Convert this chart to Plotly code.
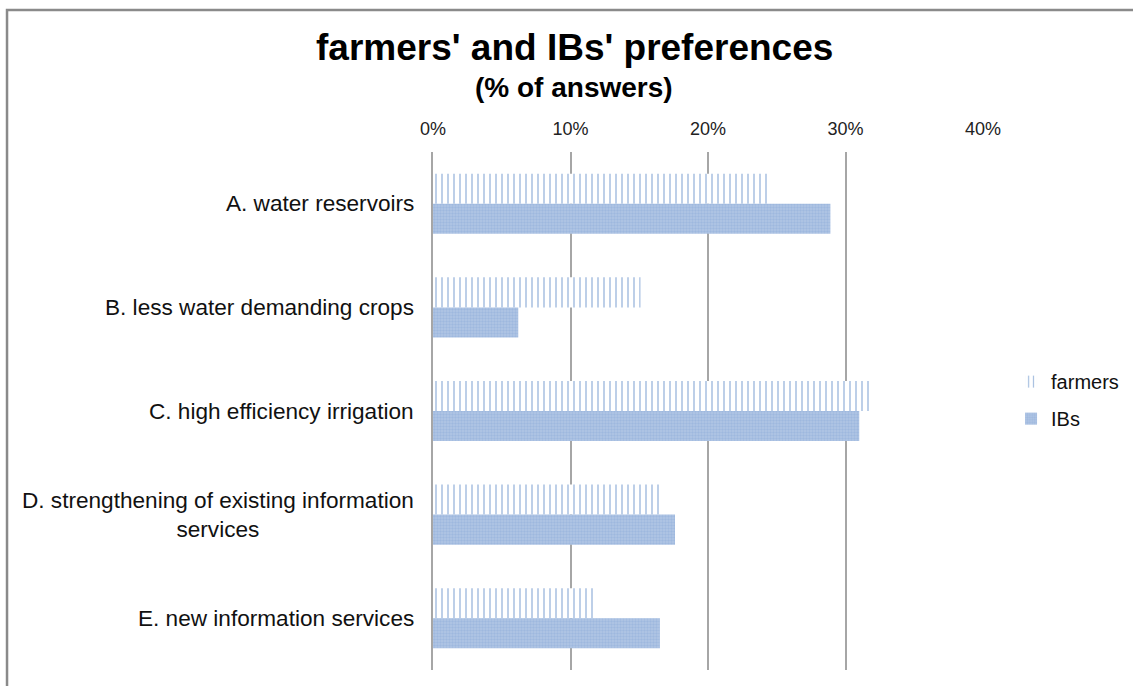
import plotly.graph_objects as go

categories = [
    "A. water reservoirs",
    "B. less water demanding crops",
    "C. high efficiency irrigation",
    "D. strengthening of existing information<br>services",
    "E. new information services",
]
farmers = [24.4, 15.1, 31.8, 16.6, 11.9]
ibs = [28.9, 6.2, 31.0, 17.6, 16.5]
tick_vals = [0, 10, 20, 30, 40]
tick_text = ["0%", "10%", "20%", "30%", "40%"]

FONT = "Arial, Liberation Sans, sans-serif"

fig = go.Figure()
fig.add_trace(go.Bar(
    name="farmers", y=categories, x=farmers, orientation="h",
    legendgroup="f",
    marker=dict(color="white", line=dict(width=0),
                pattern=dict(shape="|", fgcolor="#4f80c2", bgcolor="white",
                             size=6, solidity=0.25)),
))
fig.add_trace(go.Bar(
    name="IBs", y=categories, x=ibs, orientation="h",
    legendgroup="i",
    marker=dict(color="#a8bfe0", line=dict(width=0),
                pattern=dict(shape=".", fgcolor="#8caad7", bgcolor="#b1c6e5",
                             size=3, solidity=0.5)),
))

# category labels drawn as centred multi-line text to the left of the axis
for c in categories:
    fig.add_annotation(
        x=0, xref="paper", y=c, yref="y", text=c, showarrow=False,
        xanchor="right", xshift=-17, align="center",
        font=dict(family=FONT, size=22.6, color="#111111"),
    )

# title and subtitle
fig.add_annotation(
    x=0.2564, xref="paper", y=1.2008, yref="paper", yanchor="middle",
    xanchor="center", showarrow=False,
    text="<b>farmers' and IBs' preferences</b>",
    font=dict(family=FONT, size=37, color="black"),
)
fig.add_annotation(
    x=0.2564, xref="paper", y=1.1236, yref="paper", yanchor="middle",
    xanchor="center", showarrow=False,
    text="<b>(% of answers)</b>",
    font=dict(family=FONT, size=28, color="black"),
)

# outer chart frame
fig.add_shape(type="rect", xref="paper", yref="paper",
              x0=-0.7745, x1=1.5, y0=-0.2, y1=1.274,
              line=dict(color="#8a8a8a", width=2.5), layer="below")

fig.update_layout(
    width=1133, height=686,
    margin=dict(l=433, r=150, t=152, b=16, autoexpand=False),
    paper_bgcolor="white", plot_bgcolor="white",
    barmode="group", bargap=0.42, bargroupgap=0,
    xaxis=dict(
        side="top", range=[0, 40], tickvals=tick_vals, ticktext=tick_text,
        showgrid=True, gridcolor="#a6a6a6", gridwidth=1.5,
        zeroline=False, showline=False, ticks="", ticklabelstandoff=12,
        tickfont=dict(family=FONT, size=18, color="#222222"),
    ),
    yaxis=dict(
        autorange="reversed", showticklabels=False, showgrid=False,
        showline=True, linecolor="#a6a6a6", linewidth=1.5, ticks="",
    ),
    legend=dict(
        x=1.051, y=0.521, xanchor="left", yanchor="middle",
        font=dict(family=FONT, size=20, color="#111111"),
        traceorder="grouped", itemwidth=30, tracegroupgap=8,
        bgcolor="rgba(0,0,0,0)",
    ),
)

fig.write_html("out.html")
